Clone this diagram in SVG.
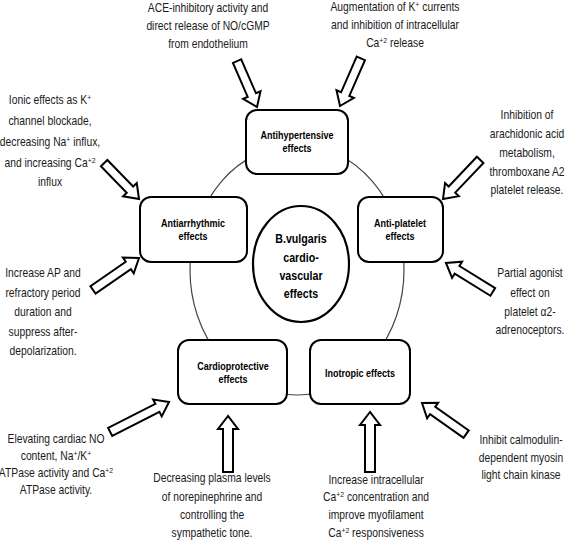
<svg xmlns="http://www.w3.org/2000/svg" width="570" height="550" viewBox="0 0 570 550">
<style>
.bg{fill:#fff}
.box{fill:#fff;stroke:#000;stroke-width:2}
.hub{fill:#fff;stroke:#000;stroke-width:2.2}
.ring{fill:none;stroke:#444;stroke-width:1.2}
.arr{fill:#fff;stroke:#000;stroke-width:2;stroke-linejoin:miter}
.note{font-family:"Liberation Sans",Arial,sans-serif;font-size:12px;fill:#1a1a1a;text-anchor:middle}
.lbl{font-family:"Liberation Sans",Arial,sans-serif;font-size:11px;font-weight:bold;fill:#000;text-anchor:middle}
.hubt{font-family:"Liberation Sans",Arial,sans-serif;font-size:13px;font-weight:bold;fill:#000;text-anchor:middle}
.sup{font-size:8px;baseline-shift:super}
</style>
<rect class="bg" x="0" y="0" width="570" height="550"/>
<g id="connectors">
<ellipse class="ring" cx="297" cy="270" rx="107" ry="125"/>
<path class="arr" transform="translate(257,107) rotate(66.5)" d="M0,0 L-13,-9.5 L-13,-4.5 L-50,-4.5 L-50,4.5 L-13,4.5 L-13,9.5 Z"/>
<path class="arr" transform="translate(340,106) rotate(113.6)" d="M0,0 L-13,-9.5 L-13,-4.5 L-52,-4.5 L-52,4.5 L-13,4.5 L-13,9.5 Z"/>
<path class="arr" transform="translate(139,199) rotate(45.8)" d="M0,0 L-13,-9.5 L-13,-4.5 L-50,-4.5 L-50,4.5 L-13,4.5 L-13,9.5 Z"/>
<path class="arr" transform="translate(139,258) rotate(-34.8)" d="M0,0 L-13,-9.5 L-13,-4.5 L-56,-4.5 L-56,4.5 L-13,4.5 L-13,9.5 Z"/>
<path class="arr" transform="translate(443,199) rotate(133.5)" d="M0,0 L-13,-9.5 L-13,-4.5 L-54,-4.5 L-54,4.5 L-13,4.5 L-13,9.5 Z"/>
<path class="arr" transform="translate(446,263) rotate(-148.3)" d="M0,0 L-13,-9.5 L-13,-4.5 L-55,-4.5 L-55,4.5 L-13,4.5 L-13,9.5 Z"/>
<path class="arr" transform="translate(169,402) rotate(-27)" d="M0,0 L-13,-9.5 L-13,-4.5 L-66,-4.5 L-66,4.5 L-13,4.5 L-13,9.5 Z"/>
<path class="arr" transform="translate(228,416) rotate(-90)" d="M0,0 L-13,-10 L-13,-5 L-56,-5 L-56,5 L-13,5 L-13,10 Z"/>
<path class="arr" transform="translate(370,412) rotate(-90)" d="M0,0 L-13,-10 L-13,-5 L-60,-5 L-60,5 L-13,5 L-13,10 Z"/>
<path class="arr" transform="translate(422,403) rotate(-144.8)" d="M0,0 L-13,-9.5 L-13,-4.5 L-54,-4.5 L-54,4.5 L-13,4.5 L-13,9.5 Z"/>
</g>
<g id="center">
<ellipse class="hub" cx="301" cy="264" rx="48" ry="58"/>
<g transform="translate(301,0) scale(0.82,1)">
<text class="hubt" x="0" y="243">B.vulgaris</text>
<text class="hubt" x="0" y="262">cardio-</text>
<text class="hubt" x="0" y="280">vascular</text>
<text class="hubt" x="0" y="298">effects</text>
</g>
</g>
<g id="antihypertensive">
<rect class="box" x="246" y="110" width="102" height="64" rx="11"/>
<g transform="translate(297,0) scale(0.82,1)">
<text class="lbl" x="0" y="139">Antihypertensive</text>
<text class="lbl" x="0" y="152">effects</text>
</g>
</g>
<g id="antiarrhythmic">
<rect class="box" x="140" y="197" width="107" height="65" rx="11"/>
<g transform="translate(193,0) scale(0.82,1)">
<text class="lbl" x="0" y="227">Antiarrhythmic</text>
<text class="lbl" x="0" y="240">effects</text>
</g>
</g>
<g id="antiplatelet">
<rect class="box" x="358" y="197" width="85" height="65" rx="11"/>
<g transform="translate(400,0) scale(0.82,1)">
<text class="lbl" x="0" y="227">Anti-platelet</text>
<text class="lbl" x="0" y="240">effects</text>
</g>
</g>
<g id="cardioprotective">
<rect class="box" x="178" y="340" width="109" height="64" rx="11"/>
<g transform="translate(233,0) scale(0.82,1)">
<text class="lbl" x="0" y="370">Cardioprotective</text>
<text class="lbl" x="0" y="383">effects</text>
</g>
</g>
<g id="inotropic">
<rect class="box" x="310" y="340" width="100" height="64" rx="11"/>
<g transform="translate(360,0) scale(0.82,1)">
<text class="lbl" x="0" y="377">Inotropic effects</text>
</g>
</g>
<g id="note-ace" transform="translate(208,0) scale(0.86,1)">
<text class="note" x="0" y="12">ACE-inhibitory activity and</text>
<text class="note" x="0" y="30">direct release of NO/cGMP</text>
<text class="note" x="0" y="48">from endothelium</text>
</g>
<g id="note-aug" transform="translate(395,0) scale(0.86,1)">
<text class="note" x="0" y="11">Augmentation of K<tspan class="sup">+</tspan> currents</text>
<text class="note" x="0" y="29">and inhibition of intracellular</text>
<text class="note" x="0" y="47">Ca<tspan class="sup">+2</tspan> release</text>
</g>
<g id="note-ionic" transform="translate(50,0) scale(0.86,1)">
<text class="note" x="0" y="104">Ionic effects as K<tspan class="sup">+</tspan></text>
<text class="note" x="0" y="125">channel blockade,</text>
<text class="note" x="0" y="146">decreasing Na<tspan class="sup">+</tspan> influx,</text>
<text class="note" x="0" y="167">and increasing Ca<tspan class="sup">+2</tspan></text>
<text class="note" x="0" y="186">influx</text>
</g>
<g id="note-arach" transform="translate(527,0) scale(0.86,1)">
<text class="note" x="0" y="119">Inhibition of</text>
<text class="note" x="0" y="138">arachidonic acid</text>
<text class="note" x="0" y="157">metabolism,</text>
<text class="note" x="0" y="176">thromboxane A2</text>
<text class="note" x="0" y="194">platelet release.</text>
</g>
<g id="note-ap" transform="translate(43,0) scale(0.86,1)">
<text class="note" x="0" y="277">Increase AP and</text>
<text class="note" x="0" y="297">refractory period</text>
<text class="note" x="0" y="316">duration and</text>
<text class="note" x="0" y="336">suppress after-</text>
<text class="note" x="0" y="355">depolarization.</text>
</g>
<g id="note-partial" transform="translate(530,0) scale(0.86,1)">
<text class="note" x="0" y="277">Partial agonist</text>
<text class="note" x="0" y="297">effect on</text>
<text class="note" x="0" y="316">platelet α2-</text>
<text class="note" x="0" y="334">adrenoceptors.</text>
</g>
<g id="note-elev" transform="translate(56,0) scale(0.86,1)">
<text class="note" x="0" y="443">Elevating cardiac NO</text>
<text class="note" x="0" y="460">content, Na<tspan class="sup">+</tspan>/K<tspan class="sup">+</tspan></text>
<text class="note" x="0" y="477">ATPase activity and Ca<tspan class="sup">+2</tspan></text>
<text class="note" x="0" y="494">ATPase activity.</text>
</g>
<g id="note-plasma" transform="translate(212,0) scale(0.86,1)">
<text class="note" x="0" y="482">Decreasing plasma levels</text>
<text class="note" x="0" y="501">of norepinephrine and</text>
<text class="note" x="0" y="519">controlling the</text>
<text class="note" x="0" y="537">sympathetic tone.</text>
</g>
<g id="note-intra" transform="translate(376,0) scale(0.86,1)">
<text class="note" x="0" y="484">Increase intracellular</text>
<text class="note" x="0" y="501">Ca<tspan class="sup">+2</tspan> concentration and</text>
<text class="note" x="0" y="519">improve myofilament</text>
<text class="note" x="0" y="537">Ca<tspan class="sup">+2</tspan> responsiveness</text>
</g>
<g id="note-calm" transform="translate(521,0) scale(0.86,1)">
<text class="note" x="0" y="444">Inhibit calmodulin-</text>
<text class="note" x="0" y="462">dependent myosin</text>
<text class="note" x="0" y="479">light chain kinase</text>
</g>
</svg>
